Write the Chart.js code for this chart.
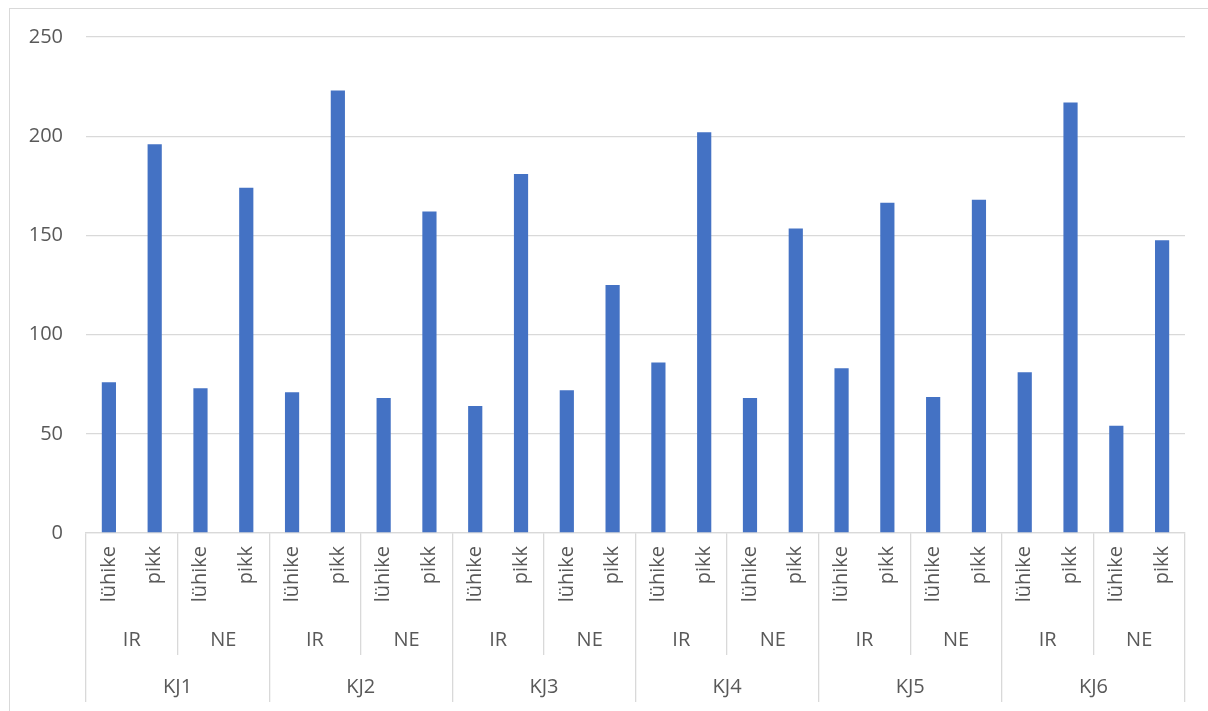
<!DOCTYPE html>
<html>
<head>
<meta charset="utf-8">
<script src="https://cdn.jsdelivr.net/npm/chart.js@4/dist/chart.umd.min.js"></script>
<style>
  html, body { margin: 0; padding: 0; background: #fff; }
  #wrap { position: relative; width: 1208px; height: 711px; overflow: hidden; }
  #frame { position: absolute; left: 9px; top: 8px; width: 1300px; height: 800px;
           border: 1px solid #d9d9d9; box-sizing: border-box; }
  #chart { position: absolute; left: 0; top: 0; }
</style>
</head>
<body>
<div id="wrap">
  <div id="frame"></div>
  <canvas id="chart" width="1208" height="711"></canvas>
</div>
<script>
// kolmetasemeline x-telg: pikkus / rühm / KJ
var lengthLabels = ['lühike', 'pikk', 'lühike', 'pikk', 'lühike', 'pikk', 'lühike', 'pikk',
  'lühike', 'pikk', 'lühike', 'pikk', 'lühike', 'pikk', 'lühike', 'pikk',
  'lühike', 'pikk', 'lühike', 'pikk', 'lühike', 'pikk', 'lühike', 'pikk'];
var groupLabels = ['IR', 'NE', 'IR', 'NE', 'IR', 'NE', 'IR', 'NE', 'IR', 'NE', 'IR', 'NE'];
var kjLabels = ['KJ1', 'KJ2', 'KJ3', 'KJ4', 'KJ5', 'KJ6'];
var values = [76, 196, 73, 174, 71, 223, 68, 162, 64, 181, 72, 125,
  86, 202, 68, 153.5, 83, 166.5, 68.5, 168, 81, 217, 54, 147.5];
var yTicks = [0, 50, 100, 150, 200, 250];

(function () {
  'use strict';
  var TEXT = '#595959';
  var LINE = '#d9d9d9';
  var FONT = {family: '"Open Sans", "Liberation Sans", sans-serif', size: 20};

  var fixHeight = function (h) {
    return function (scale) { scale.height = h; };
  };

  // eraldusjooned ainult paaride vahel (viimane joon on skaala kontekstis, indeksita)
  var pairSeparator = function (ctx) {
    if (ctx.type !== 'tick' || ctx.index % 2 === 0) return LINE;
    return 'rgba(0,0,0,0)';
  };

  new Chart(document.getElementById('chart').getContext('2d'), {
    type: 'bar',
    data: {
      labels: lengthLabels,
      datasets: [{
        data: values,
        backgroundColor: '#4472C4',
        borderWidth: 0,
        barPercentage: 1,
        categoryPercentage: 0.31,
      }]
    },
    options: {
      responsive: false, animation: false,
      layout: {padding: {left: 10, top: 37, right: 23, bottom: 9}},
      plugins: {legend: {display: false}, tooltip: {enabled: false}},
      scales: {
        y: {
          min: 0, max: 250,
          afterBuildTicks: function (scale) {
            scale.ticks = yTicks.map(function (v) { return {value: v}; });
          },
          afterFit: function (scale) { scale.width = 76; },
          ticks: {color: TEXT, font: FONT, padding: 23},
          grid: {color: LINE, lineWidth: 1.3, drawTicks: false},
          border: {display: false},
        },
        x: {
          weight: 0,
          afterFit: fixHeight(75),
          ticks: {color: TEXT, font: FONT, minRotation: 90, maxRotation: 90,
                  autoSkip: false, padding: -62},
          grid: {
            offset: true, drawOnChartArea: false, tickLength: 75, lineWidth: 1.3,
            color: pairSeparator,
          },
          border: {display: true, color: LINE, width: 1.3},
        },
        x2: {
          type: 'category', position: 'bottom', weight: 1, offset: true,
          labels: groupLabels,
          afterFit: fixHeight(47),
          ticks: {color: TEXT, font: FONT, maxRotation: 0, autoSkip: false, padding: -27},
          grid: {offset: true, drawOnChartArea: false, tickLength: 47, color: LINE, lineWidth: 1.3},
          border: {display: false},
        },
        x3: {
          type: 'category', position: 'bottom', weight: 2, offset: true,
          labels: kjLabels,
          afterFit: fixHeight(47),
          ticks: {color: TEXT, font: FONT, maxRotation: 0, autoSkip: false, padding: -27},
          grid: {offset: true, drawOnChartArea: false, tickLength: 47, color: LINE, lineWidth: 1.3},
          border: {display: false},
        },
      },
    }
  });
})();
</script>
</body>
</html>
